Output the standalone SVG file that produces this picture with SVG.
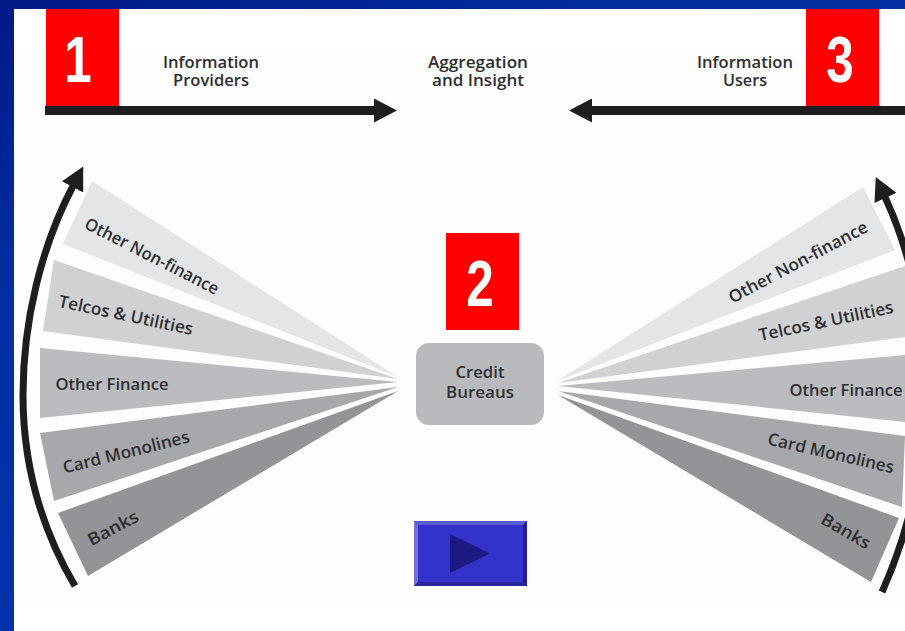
<svg xmlns="http://www.w3.org/2000/svg" width="905" height="631" viewBox="0 0 905 631">
<style>
text{font-family:"Open Sans","Liberation Sans",sans-serif;fill:#2e2e31;font-size:17px;text-anchor:middle;font-weight:600}
.num{font-family:"Liberation Sans",Arial,sans-serif;font-weight:700;font-size:65px;fill:#fff}
.red{fill:#f00}
.shaft{fill:none;stroke:#1e1e1e;stroke-width:9}
.arc{fill:none;stroke:#1e1e1e;stroke-width:7}
</style>
<defs>
<linearGradient id="bg" x1="0" y1="0" x2="0" y2="1"><stop offset="0" stop-color="#01198a"/><stop offset=".5" stop-color="#0230a4"/><stop offset="1" stop-color="#0232ab"/></linearGradient>
<linearGradient id="top" x1="0" y1="0" x2="1" y2="0"><stop offset="0" stop-color="#011a88"/><stop offset=".6" stop-color="#012b9b"/><stop offset="1" stop-color="#0330a2"/></linearGradient>
<marker id="head" markerUnits="userSpaceOnUse" markerWidth="23" markerHeight="24" refX="1" refY="12" orient="auto" viewBox="0 0 23 24"><path d="M0,0L23,12L0,24Z" fill="#1e1e1e"/></marker>
</defs>
<rect width="905" height="631" fill="url(#bg)"/>
<rect width="905" height="9" fill="url(#top)"/>
<rect x="14" y="9" width="891" height="622" fill="#fff"/>
<rect x="14" y="48" width="891" height="558" fill="#fdfdfd"/>
<g id="connectors">
<path class="shaft" d="M45,110.500H375" marker-end="url(#head)"/>
<path class="shaft" d="M905,110.500H591" marker-end="url(#head)"/>
<path class="arc" d="M75,586C42,530 23,465 23,395C23,320 42,245 73,186" marker-end="url(#head)"/>
<path class="arc" d="M882,592C910,530 925,460 925,395C925,320 912,255 885,197" marker-end="url(#head)"/>
</g>
<g id="left-other-non-finance"><path d="M92,181L63,244L398,377Z" fill="#e4e5e7"/><text transform="translate(152,256) rotate(27)" dy="6" textLength="148" lengthAdjust="spacingAndGlyphs">Other Non-finance</text></g>
<g id="left-telcos"><path d="M54,260L43,331L398,379Z" fill="#d0d1d3"/><text transform="translate(126,315) rotate(12)" dy="6" textLength="137" lengthAdjust="spacingAndGlyphs">Telcos &amp; Utilities</text></g>
<g id="left-other-finance"><path d="M40,348L40,418L398,382Z" fill="#bbbcbf"/><text transform="translate(112,384)" dy="6" textLength="113" lengthAdjust="spacingAndGlyphs">Other Finance</text></g>
<g id="left-card"><path d="M40,433L54,501L398,387Z" fill="#a7a8ab"/><text transform="translate(126,452) rotate(-14)" dy="6" textLength="130" lengthAdjust="spacingAndGlyphs">Card Monolines</text></g>
<g id="left-banks"><path d="M58,513L88,576L398,391Z" fill="#939497"/><text transform="translate(113,528) rotate(-28)" dy="6" textLength="55" lengthAdjust="spacingAndGlyphs">Banks</text></g>
<g id="right-other-non-finance"><path d="M863,187L895,250L557,381Z" fill="#e4e5e7"/><text transform="translate(798,262) rotate(-28)" dy="6" textLength="155" lengthAdjust="spacingAndGlyphs">Other Non-finance</text></g>
<g id="right-telcos"><path d="M905,266L905,337L558,383Z" fill="#d0d1d3"/><text transform="translate(826,321) rotate(-12)" dy="6" textLength="137" lengthAdjust="spacingAndGlyphs">Telcos &amp; Utilities</text></g>
<g id="right-other-finance"><path d="M905,355L905,422L558,386Z" fill="#bbbcbf"/><text transform="translate(846,390)" dy="6" textLength="113" lengthAdjust="spacingAndGlyphs">Other Finance</text></g>
<g id="right-card"><path d="M905,436L902,507L558,391Z" fill="#a7a8ab"/><text transform="translate(831,453) rotate(13)" dy="6" textLength="129" lengthAdjust="spacingAndGlyphs">Card Monolines</text></g>
<g id="right-banks"><path d="M899,518L871,582L558,395Z" fill="#939497"/><text transform="translate(846,531) rotate(30)" dy="6" textLength="54" lengthAdjust="spacingAndGlyphs">Banks</text></g>
<g id="providers"><text x="211" y="68" textLength="96" lengthAdjust="spacingAndGlyphs">Information</text><text x="211" y="86" textLength="76" lengthAdjust="spacingAndGlyphs">Providers</text></g>
<g id="aggregation"><text x="478" y="68" textLength="100" lengthAdjust="spacingAndGlyphs">Aggregation</text><text x="478" y="86" textLength="92" lengthAdjust="spacingAndGlyphs">and Insight</text></g>
<g id="users"><text x="745" y="68" textLength="96" lengthAdjust="spacingAndGlyphs">Information</text><text x="745" y="86" textLength="44" lengthAdjust="spacingAndGlyphs">Users</text></g>
<g id="credit-bureaus"><rect x="416" y="343" width="128" height="82" rx="13" fill="#b9babd"/><text x="480" y="378" textLength="49" lengthAdjust="spacingAndGlyphs">Credit</text><text x="480" y="398" textLength="68" lengthAdjust="spacingAndGlyphs">Bureaus</text></g>
<g id="badge-1"><rect class="red" x="46" y="9" width="73" height="97"/><text class="num" transform="translate(78,82) scale(.76,1)">1</text></g>
<g id="badge-2"><rect class="red" x="446" y="233" width="73" height="97"/><text class="num" transform="translate(480,306) scale(.76,1)">2</text></g>
<g id="badge-3"><rect class="red" x="806" y="9" width="73" height="97"/><text class="num" transform="translate(840,82) scale(.76,1)">3</text></g>
<g id="next-button">
<rect x="414" y="521" width="113" height="65" fill="#3333cc"/>
<path d="M414,521H527L523,525H418Z" fill="#5c5cd6"/>
<path d="M414,521V586L418,582V525Z" fill="#7070e0"/>
<path d="M527,521V586L523,582V525Z" fill="#1f1f99"/>
<path d="M414,586H527L523,582H418Z" fill="#28289f"/>
<path d="M450,534L490,553.500L450,573Z" fill="#1a1a80"/>
</g>
</svg>
